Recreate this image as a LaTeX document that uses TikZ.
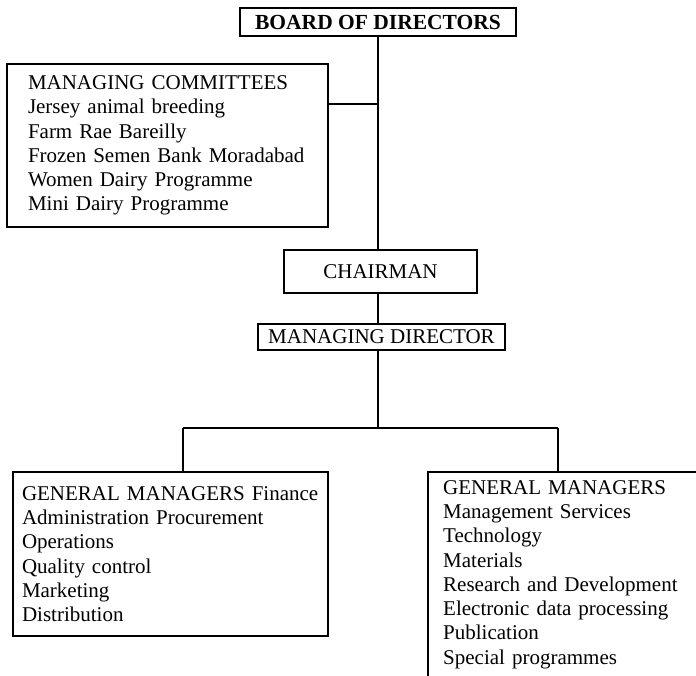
\documentclass[tikz,border=0pt]{standalone}
\usepackage{fontspec}
\setmainfont{Liberation Serif}
\begin{document}
\begin{tikzpicture}[x=1pt,y=-1pt,
  box/.style={draw,line width=1.2pt,inner sep=0pt},
  txt/.style={font=\fontsize{21}{24.3}\selectfont},
  conn/.style={line width=1.2pt}]
\useasboundingbox[fill=white] (0,0) rectangle (696,675);
\clip (0,0) rectangle (696,675);
% boxes
\node[box,font=\bfseries\fontsize{21.5}{24}\selectfont,minimum width=276pt,minimum height=28pt] (board) at (378,22) {BOARD OF DIRECTORS};
\node[box,txt,minimum width=321pt,minimum height=163pt,inner xsep=21pt,text width=279pt,align=left] (mc) at (167.5,145.5)
  {MANAGING COMMITTEES\\Jersey animal breeding\\Farm Rae Bareilly\\Frozen Semen Bank Moradabad\\Women Dairy Programme\\Mini Dairy Programme};
\node[box,txt,minimum width=193pt,minimum height=43pt] (chair) at (380.5,271.5) {CHAIRMAN};
\node[box,txt,minimum width=247pt,minimum height=26pt] (md) at (381.5,337) {MANAGING DIRECTOR};
\node[box,txt,minimum width=315pt,minimum height=164pt,inner xsep=9pt,text width=297pt,align=left] (gml) at (170.5,554)
  {GENERAL MANAGERS Finance\\Administration Procurement\\Operations\\Quality control\\Marketing\\Distribution};
\node[txt,anchor=north west,inner xsep=15pt,inner ysep=8pt,text width=300pt,align=left] (gmr) at (428,472)
  {GENERAL MANAGERS\\Management Services\\Technology\\Materials\\Research and Development\\Electronic data processing\\Publication\\Special programmes};
\draw[conn] ([yshift=-30pt]gmr.south west) -- (gmr.north west) -- (gmr.north east);
% connectors
\coordinate (j1) at (378,104);
\coordinate (split) at (378,428);
\coordinate (dl) at (183,428);
\coordinate (dr) at (558,428);
\draw[conn] (board.south) -- (board.south |- chair.north);
\draw[conn] (mc.east |- j1) -- (j1);
\draw[conn] (board.south |- chair.south) -- (board.south |- md.north);
\draw[conn] (board.south |- md.south) -- (split);
\draw[conn] (dl) -- (dr);
\draw[conn] (dl) -- (dl |- gml.north);
\draw[conn] (dr) -- (dr |- gmr.north);
\end{tikzpicture}
\end{document}
